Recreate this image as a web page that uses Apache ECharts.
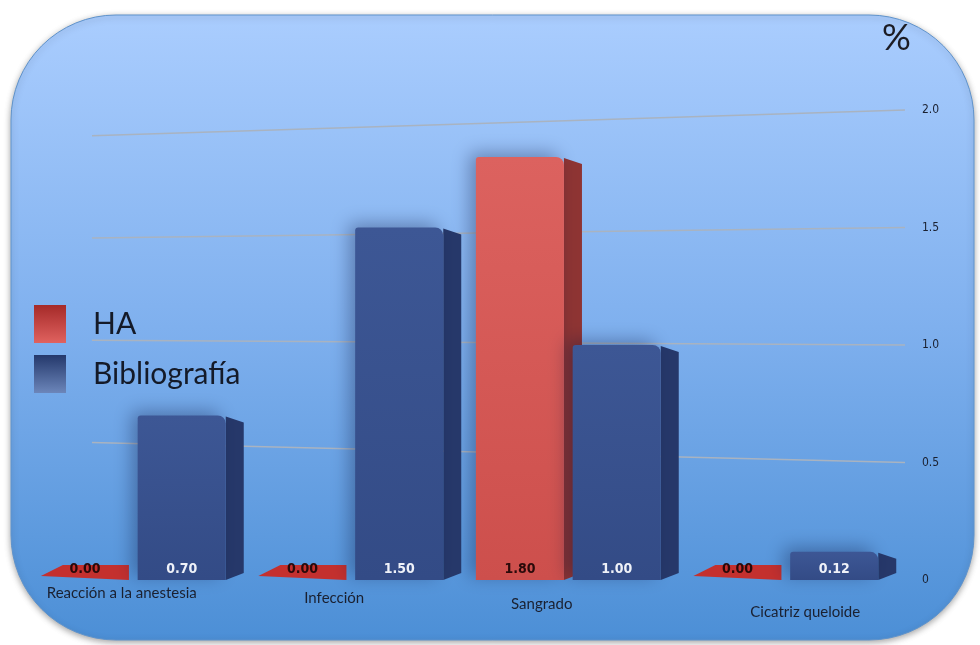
<!DOCTYPE html>
<html>
<head>
<meta charset="utf-8">
<script src="https://cdn.jsdelivr.net/npm/echarts@6/dist/echarts.min.js"></script>
<style>
  html, body { margin: 0; padding: 0; background: #ffffff; }
  #chart { width: 980px; height: 645px; }
</style>
</head>
<body>
<div id="chart"></div>
<script>
// Complication rates (%) per category
const categories = ['Reacción a la anestesia', 'Infección', 'Sangrado', 'Cicatriz queloide'];
const haValues = [0.00, 0.00, 1.80, 0.00];
const biblioValues = [0.70, 1.50, 1.00, 0.12];
const yTicks = [0, 0.5, 1.0, 1.5, 2.0];

const LABEL_FONT = 'Lato, "Open Sans", sans-serif';
const VALUE_FONT = '"DejaVu Sans Condensed", "Liberation Sans", sans-serif';
const LEGEND_FONT = 'Lato, "Open Sans", sans-serif';

const palettes = {
  ha: { front: ['#dc625f', '#cd4f4c'], side: '#8e3433', slab: '#c4302e', text: '#2a0a0a' },
  bib: { front: ['#3d5795', '#334b86'], side: '#26386a', slab: '#334b86', text: '#eef1f8' }
};

// Draws a pseudo-3D box: front face, right side face and the value label
function boxRenderer(offsetRatio, pal) {
  return function (params, api) {
    const idx = api.value(0);
    const v = api.value(1);
    const base = api.coord([idx, 0]);
    const top = api.coord([idx, v]);
    const band = api.size([1, 0])[0];
    const w = band * 0.405;
    const x0 = base[0] + offsetRatio * band;
    const x1 = x0 + w;
    const d = 18;
    const by = base[1];
    const ty = top[1];
    const children = [];
    if (v > 0) {
      children.push({
        type: 'polygon',
        shape: { points: [[x1, ty + 1], [x1 + d, ty + 7], [x1 + d, by - 7], [x1, by]] },
        style: { fill: pal.side }
      });
      children.push({
        type: 'rect',
        shape: { x: x0, y: ty, width: w, height: by - ty, r: [3, 8, 0, 0] },
        style: {
          fill: new echarts.graphic.LinearGradient(0, 0, 0, 1, [
            { offset: 0, color: pal.front[0] },
            { offset: 1, color: pal.front[1] }
          ]),
          shadowColor: 'rgba(10,20,60,0.35)',
          shadowBlur: 18,
          shadowOffsetX: -6,
          shadowOffsetY: -4
        }
      });
    } else {
      // zero value: only the flat floor slab
      children.push({
        type: 'polygon',
        shape: { points: [[x0 + 22, by - 15], [x1, by - 15], [x1, by], [x0, by - 4]] },
        style: { fill: pal.slab }
      });
    }
    children.push({
      type: 'text',
      style: {
        text: v.toFixed(2),
        x: x0 + w / 2,
        y: by - 4,
        align: 'center',
        verticalAlign: 'bottom',
        fill: pal.text,
        font: 'bold 14px ' + VALUE_FONT
      }
    });
    return { type: 'group', children: children };
  };
}

// Back-wall grid lines, slightly converging towards the left
function wallLineRenderer(params, api) {
  const right = api.coord([0, api.value(0)]);
  const rect = params.coordSys;
  const yR = right[1];
  const yL = 309 + (yR - 309) * 0.87;
  return {
    type: 'line',
    shape: { x1: rect.x, y1: yL, x2: rect.x + rect.width, y2: yR },
    style: { stroke: '#a9b3c0', lineWidth: 1.5 }
  };
}

const catRich = {
  c0: { padding: [4, 34, 0, 0], fontSize: 15, color: '#1a2030', fontFamily: LABEL_FONT },
  c1: { padding: [9, 44, 0, 0], fontSize: 15, color: '#1a2030', fontFamily: LABEL_FONT },
  c2: { padding: [15, 64, 0, 0], fontSize: 15, color: '#1a2030', fontFamily: LABEL_FONT },
  c3: { padding: [23, 0, 0, 28], fontSize: 15, color: '#1a2030', fontFamily: LABEL_FONT }
};

const chart = echarts.init(document.getElementById('chart'), null, { renderer: 'canvas' });

chart.setOption({
  animation: false,
  backgroundColor: '#ffffff',
  graphic: [
    {
      type: 'rect',
      z: -10,
      shape: { x: 11, y: 15, width: 963, height: 625, r: 105 },
      style: {
        fill: new echarts.graphic.LinearGradient(0, 0, 0, 1, [
          { offset: 0, color: '#aacdfe' },
          { offset: 0.5, color: '#7fb0ee' },
          { offset: 1, color: '#4c8fd6' }
        ]),
        stroke: '#5f93cc',
        lineWidth: 1,
        shadowColor: 'rgba(0,0,0,0.35)',
        shadowBlur: 6,
        shadowOffsetY: 2
      }
    },
    {
      type: 'text',
      left: 882,
      top: 20,
      style: { text: '%', font: '36px ' + LEGEND_FONT, fill: '#1c1c24' }
    }
  ],
  legend: {
    orient: 'vertical',
    left: 29,
    top: 300,
    icon: 'rect',
    itemWidth: 32,
    itemHeight: 38,
    itemGap: 12,
    textStyle: { fontSize: 30, color: '#141a28', fontFamily: LEGEND_FONT, padding: [0, 0, 0, 22] },
    data: [
      { name: 'HA', itemStyle: { color: new echarts.graphic.LinearGradient(0, 0, 0, 1, [
        { offset: 0, color: '#a52a29' }, { offset: 1, color: '#e0625f' }]) } },
      { name: 'Bibliografía', itemStyle: { color: new echarts.graphic.LinearGradient(0, 0, 0, 1, [
        { offset: 0, color: '#24386b' }, { offset: 1, color: '#6c86ba' }]) } }
    ]
  },
  grid: [
    { left: 30, right: 80, top: 110, bottom: 65 },
    { left: 92, right: 75, top: 110, bottom: 65 }
  ],
  xAxis: [
    {
      type: 'category',
      gridIndex: 0,
      data: categories,
      axisLine: { show: false },
      axisTick: { show: false },
      axisLabel: {
        margin: 2,
        verticalAlign: 'top',
        formatter: function (val, i) { return '{c' + i + '|' + val + '}'; },
        rich: catRich
      }
    },
    {
      type: 'value',
      gridIndex: 1,
      min: 0,
      max: 1,
      show: false
    }
  ],
  yAxis: [
    {
      type: 'value',
      gridIndex: 0,
      position: 'right',
      min: 0,
      max: 2,
      interval: 0.5,
      axisLine: { show: false },
      axisTick: { show: false },
      splitLine: { show: false },
      axisLabel: {
        margin: 22,
        fontSize: 12,
        color: '#1a2030',
        fontFamily: VALUE_FONT,
        formatter: function (val) {
          const t = yTicks.find(function (k) { return Math.abs(k - val) < 1e-9; });
          return t === 0 ? '0' : t.toFixed(1);
        }
      }
    },
    {
      type: 'value',
      gridIndex: 1,
      min: 0,
      max: 2,
      show: false
    }
  ],
  series: [
    {
      name: 'wall',
      type: 'custom',
      xAxisIndex: 1,
      yAxisIndex: 1,
      silent: true,
      renderItem: wallLineRenderer,
      encode: { x: 1, y: 0 },
      data: yTicks.slice(1).map(function (t) { return [t, 0]; }),
      z: 1
    },
    {
      name: 'HA',
      type: 'custom',
      xAxisIndex: 0,
      yAxisIndex: 0,
      itemStyle: { color: '#d65a58' },
      renderItem: boxRenderer(-0.45, palettes.ha),
      data: haValues.map(function (v, i) { return [i, v]; }),
      z: 3
    },
    {
      name: 'Bibliografía',
      type: 'custom',
      xAxisIndex: 0,
      yAxisIndex: 0,
      itemStyle: { color: '#3b5391' },
      renderItem: boxRenderer(-0.005, palettes.bib),
      data: biblioValues.map(function (v, i) { return [i, v]; }),
      z: 4
    }
  ]
});
</script>
</body>
</html>
